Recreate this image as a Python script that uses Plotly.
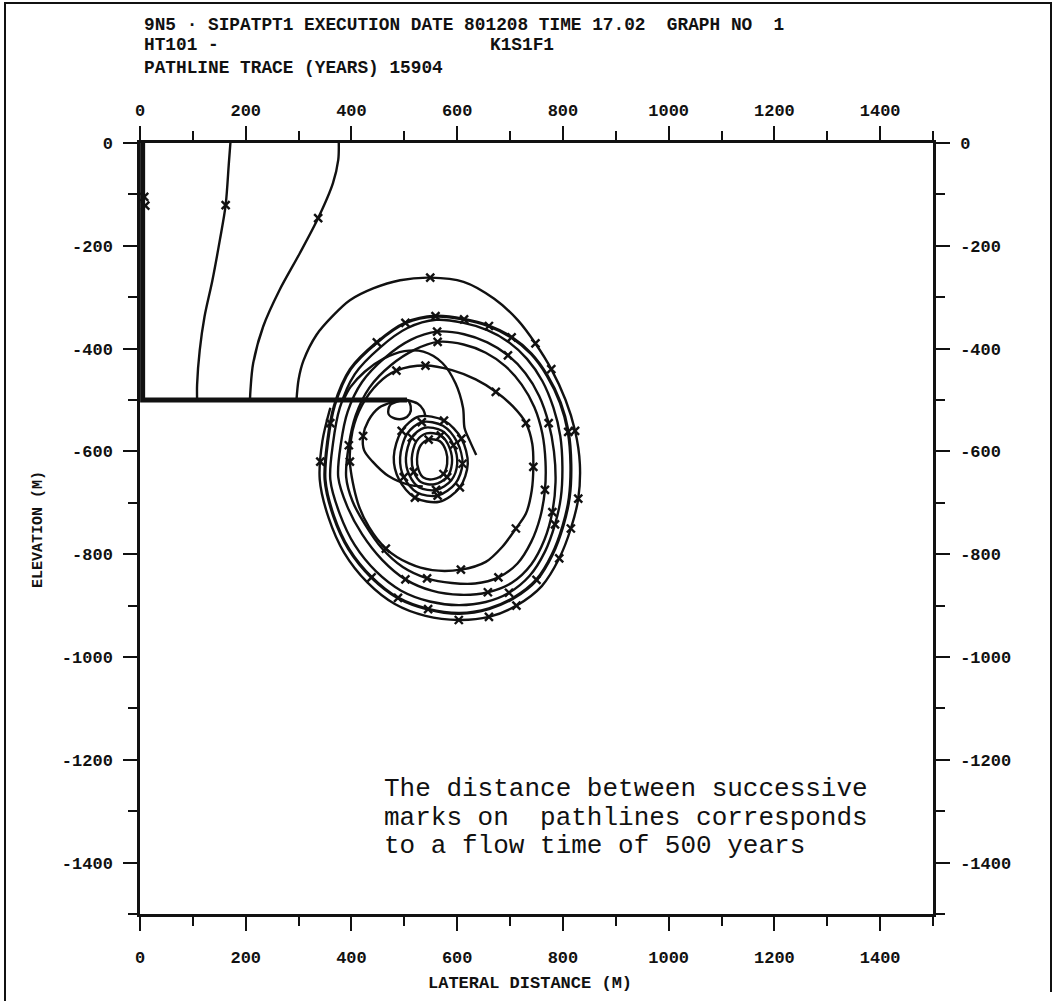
import plotly.graph_objects as go

# ---------------- axis ticks ----------------
x_major = [0, 200, 400, 600, 800, 1000, 1200, 1400]
x_major_text = ["0", "200", "400", "600", "800", "1000", "1200", "1400"]
x_minor = [100, 300, 500, 700, 900, 1100, 1300, 1500]
y_major = [0, -200, -400, -600, -800, -1000, -1200, -1400]
y_major_text = ["0", "-200", "-400", "-600", "-800", "-1000", "-1200", "-1400"]
y_minor = [-100, -300, -500, -700, -900, -1100, -1300, -1500]

# ---------------- pathlines (lateral distance m, elevation m) ----------------
# pathline along the left boundary, then along the -500 m layer
edge_x = [5, 5, 505]
edge_y = [0, -500, -500]

# pathlines descending from the surface to the -500 m layer
p2_x = [171, 168, 162, 151, 137, 122, 113, 108, 108]
p2_y = [0, -40, -121, -189, -267, -338, -403, -470, -500]
p3_x = [376, 375, 365, 337, 302, 264, 233, 214, 209, 208]
p3_y = [0, -33, -78, -146, -215, -286, -357, -429, -480, -500]

# large clockwise loops around the eddy
loop_a_x = [296, 300, 309, 334, 366, 397, 441, 492, 549, 612, 670, 715, 748, 778, 805, 823, 832, 829,
            815, 793, 760, 712, 660, 603, 540, 482, 430, 386, 357, 340, 345, 360]
loop_a_y = [-500, -460, -424, -373, -335, -306, -283, -267, -262, -270, -303, -345, -390, -440, -500, -560,
            -624, -692, -750, -808, -862, -900, -922, -928, -920, -897, -855, -797, -730, -655, -580, -515]

loop_b1_x = [350, 355, 368, 398, 448, 502, 559, 613, 660, 703, 740, 770, 795, 810, 815, 812, 800, 780,
             750, 707, 660, 605, 545, 488, 438, 395, 366, 350]
loop_b1_y = [-655, -580, -510, -440, -388, -350, -337, -343, -356, -378, -410, -452, -505, -562, -625,
             -690, -745, -800, -850, -885, -906, -915, -907, -885, -845, -790, -725, -655]

loop_b2_x = [360, 365, 378, 406, 454, 506, 560, 612, 657, 697, 732, 761, 782, 795, 799, 796, 785, 766,
             737, 698, 654, 603, 548, 494, 447, 406, 378, 360]
loop_b2_y = [-655, -585, -515, -450, -398, -360, -344, -350, -364, -387, -420, -463, -515, -570, -630,
             -690, -742, -795, -842, -875, -893, -899, -892, -871, -834, -782, -722, -655]

loop_c_x = [375, 380, 393, 420, 463, 512, 562, 613, 657, 696, 729, 755, 773, 783, 786, 780, 765, 740,
            704, 658, 606, 552, 502, 458, 420, 392, 375]
loop_c_y = [-650, -585, -522, -465, -418, -383, -367, -372, -388, -413, -448, -492, -545, -600, -660,
            -718, -772, -820, -855, -874, -879, -871, -849, -811, -761, -707, -650]

loop_d_x = [390, 395, 408, 434, 475, 520, 563, 612, 654, 691, 722, 746, 761, 767, 766, 757, 740, 714,
            678, 634, 590, 543, 497, 458, 425, 402, 390]
loop_d_y = [-650, -588, -530, -476, -432, -402, -387, -392, -408, -434, -470, -514, -565, -620, -675,
            -728, -776, -818, -845, -857, -856, -847, -825, -789, -741, -697, -650]

loop_f_x = [397, 402, 420, 450, 485, 540, 590, 635, 673, 705, 730, 742, 744, 741, 730, 711, 685, 654,
            607, 553, 509, 465, 433, 412, 397]
loop_f_y = [-620, -560, -510, -468, -443, -433, -442, -460, -484, -512, -545, -585, -630, -676, -721,
            -750, -786, -815, -830, -831, -818, -789, -747, -700, -620]

# arc rising from the layer and dropping past the east side of the inner eddy
arc_e_x = [385, 398, 425, 460, 500, 536, 572, 597, 611, 614, 624, 636]
arc_e_y = [-500, -475, -445, -420, -405, -406, -428, -468, -515, -555, -580, -607]

# path leaving the layer and entering the inner eddy from the west
path_g_x = [480, 452, 432, 422, 424, 440, 470, 509, 535]
path_g_y = [-503, -515, -540, -570, -598, -620, -648, -665, -668]

# small loop at the end of the layer and its link into the inner eddy
knot_x = [505, 512, 510, 499, 482, 470, 473, 490, 505]
knot_y = [-500, -512, -527, -536, -536, -527, -510, -502, -500]
link_x = [505, 525, 536, 540]
link_y = [-500, -507, -519, -532]

# inner eddy loops
s1_x = [480, 495, 528, 575, 608, 620, 605, 566, 520, 490, 480]
s1_y = [-611, -560, -532, -540, -575, -624, -670, -698, -690, -655, -611]
s2_x = [492, 505, 533, 573, 600, 610, 597, 563, 524, 499, 492]
s2_y = [-612, -566, -543, -550, -582, -624, -662, -686, -680, -650, -612]
s3_x = [503, 514, 538, 571, 593, 600, 589, 560, 528, 509, 503]
s3_y = [-613, -573, -554, -560, -588, -624, -656, -675, -670, -645, -613]
s4_x = [514, 523, 542, 569, 586, 590, 581, 557, 532, 518, 514]
s4_y = [-614, -580, -565, -569, -594, -624, -650, -664, -660, -640, -614]
s5_x = [524, 531, 546, 567, 579, 581, 574, 555, 536, 527, 524]
s5_y = [-615, -588, -577, -580, -600, -624, -644, -654, -651, -636, -615]

# 500-year travel-time marks along the pathlines
mark_x = [8, 10, 162, 337, 549, 748, 448, 502, 559, 613, 660, 703, 778, 810, 823, 829, 815, 793,
          750, 712, 698, 660, 603, 545, 488, 438, 562, 563, 696, 485, 540, 673, 730, 744, 773, 766,
          780, 785, 711, 678, 607, 465, 658, 543, 502, 422, 341, 360, 395, 397,
          495, 575, 608, 605, 520, 533, 610, 563, 499, 514, 593, 560, 569, 581, 518, 546, 574]
mark_y = [-105, -122, -121, -146, -262, -390, -388, -350, -337, -343, -356, -378, -440, -562, -560,
          -692, -750, -808, -850, -900, -875, -922, -928, -907, -885, -845, -367, -387, -413, -443,
          -433, -484, -545, -630, -545, -675, -718, -742, -750, -845, -830, -789, -874, -847, -849,
          -570, -620, -545, -588, -620,
          -560, -540, -575, -670, -690, -543, -624, -686, -650, -573, -588, -675, -569, -650, -640,
          -577, -644]

# ---------------- page geometry ----------------
FIG_W, FIG_H = 1058, 1001
M_L, M_R, M_T, M_B = 140, 125, 143, 87
PLOT_W = FIG_W - M_L - M_R
PLOT_H = FIG_H - M_T - M_B


def xp(pix):
    return (pix - M_L) / PLOT_W


def yp(pix):
    return (FIG_H - M_B - pix) / PLOT_H


def keep_spaces(s):
    return s.replace(" ", "&nbsp;")


PLOTTER = "Liberation Mono, DejaVu Sans Mono, monospace"
TYPEWRITER = "Liberation Mono, Courier New, monospace"
INK = "#111111"

fig = go.Figure()


def add_line(xs, ys, width=2.4, shape="spline"):
    fig.add_trace(go.Scatter(
        x=xs, y=ys, mode="lines",
        line=dict(color=INK, width=width, shape=shape, smoothing=0.9),
        hoverinfo="skip", showlegend=False,
    ))


add_line(edge_x, edge_y, width=5, shape="linear")
add_line(p2_x, p2_y)
add_line(p3_x, p3_y)
add_line(loop_a_x, loop_a_y)
add_line(loop_b1_x, loop_b1_y, width=3.2)
for xs, ys in [(loop_b2_x, loop_b2_y), (loop_c_x, loop_c_y), (loop_d_x, loop_d_y),
               (loop_f_x, loop_f_y), (arc_e_x, arc_e_y), (path_g_x, path_g_y),
               (knot_x, knot_y), (link_x, link_y),
               (s1_x, s1_y), (s2_x, s2_y), (s3_x, s3_y), (s4_x, s4_y), (s5_x, s5_y)]:
    add_line(xs, ys)

# travel-time marks drawn on the overlay axes (same scale as the main axes)
fig.add_trace(go.Scatter(
    x=mark_x, y=mark_y, mode="markers", xaxis="x2", yaxis="y2",
    marker=dict(symbol="x-thin", size=8, line=dict(color=INK, width=2.4)),
    hoverinfo="skip", showlegend=False,
))

axis_common = dict(
    showgrid=False, zeroline=False, showline=True, linecolor=INK, linewidth=2.5,
    ticks="outside", ticklen=14, tickwidth=2, tickcolor=INK,
    fixedrange=True,
)
minor_common = dict(ticks="outside", ticklen=9, tickwidth=2, tickcolor=INK)
tick_font = dict(family=PLOTTER, size=17, color=INK, weight="bold")

fig.update_layout(
    width=FIG_W, height=FIG_H,
    margin=dict(l=M_L, r=M_R, t=M_T, b=M_B, pad=0),
    paper_bgcolor="white", plot_bgcolor="white",
    showlegend=False,
    xaxis=dict(range=[0, 1500], side="bottom", tickvals=x_major, ticktext=x_major_text,
               minor=dict(tickvals=x_minor, **minor_common), tickfont=tick_font,
               ticklabelstandoff=12, **axis_common),
    xaxis2=dict(range=[0, 1500], side="top", overlaying="x", anchor="y", tickvals=x_major,
                ticktext=x_major_text, minor=dict(tickvals=x_minor, **minor_common),
                tickfont=tick_font, ticklabelstandoff=3, **axis_common),
    yaxis=dict(range=[-1500, 0], side="left", tickvals=y_major, ticktext=y_major_text,
               minor=dict(tickvals=y_minor, **minor_common), tickfont=tick_font,
               ticklabelstandoff=7, **axis_common),
    yaxis2=dict(range=[-1500, 0], side="right", overlaying="y", anchor="x", tickvals=y_major,
                ticktext=y_major_text, minor=dict(tickvals=y_minor, **minor_common),
                tickfont=tick_font, ticklabelstandoff=7, **axis_common),
)

# page frame (left, top and right edges)
fig.add_shape(type="path", xref="paper", yref="paper",
              path=f"M {xp(5)} {yp(1001)} L {xp(5)} {yp(3)} L {xp(1051)} {yp(3)} L {xp(1051)} {yp(992)}",
              line=dict(color=INK, width=2))

head_font = dict(family=PLOTTER, size=17.8, color=INK, weight="bold")
header = [
    (142, 25, "9N5 · SIPATPT1 EXECUTION DATE 801208 TIME 17.02  GRAPH NO  1"),
    (142, 45, "HT101 -"),
    (488, 45, "K1S1F1"),
    (142, 68, "PATHLINE TRACE (YEARS) 15904"),
]
for hx, hy, txt in header:
    fig.add_annotation(text=keep_spaces(txt), x=xp(hx), y=yp(hy), xref="paper", yref="paper",
                       xanchor="left", yanchor="middle", showarrow=False, font=head_font)

title_font = dict(family=PLOTTER, size=17, color=INK, weight="bold")
fig.add_annotation(text=keep_spaces("LATERAL DISTANCE (M)"), x=xp(530), y=yp(984),
                   xref="paper", yref="paper", xanchor="center", yanchor="middle",
                   showarrow=False, font=title_font)
fig.add_annotation(text=keep_spaces("ELEVATION (M)"), x=xp(38), y=yp(530), xref="paper", yref="paper",
                   xanchor="center", yanchor="middle", showarrow=False, textangle=-90,
                   font=dict(family=PLOTTER, size=15, color=INK, weight="bold"))

note_lines = [
    "The distance between successive",
    "marks on  pathlines corresponds",
    "to a flow time of 500 years",
]
for i, line in enumerate(note_lines):
    fig.add_annotation(text=keep_spaces(line), x=xp(382), y=yp(789 + 28.5 * i),
                       xref="paper", yref="paper", xanchor="left", yanchor="middle",
                       showarrow=False, font=dict(family=TYPEWRITER, size=26, color=INK))

fig.write_html("out.html")
